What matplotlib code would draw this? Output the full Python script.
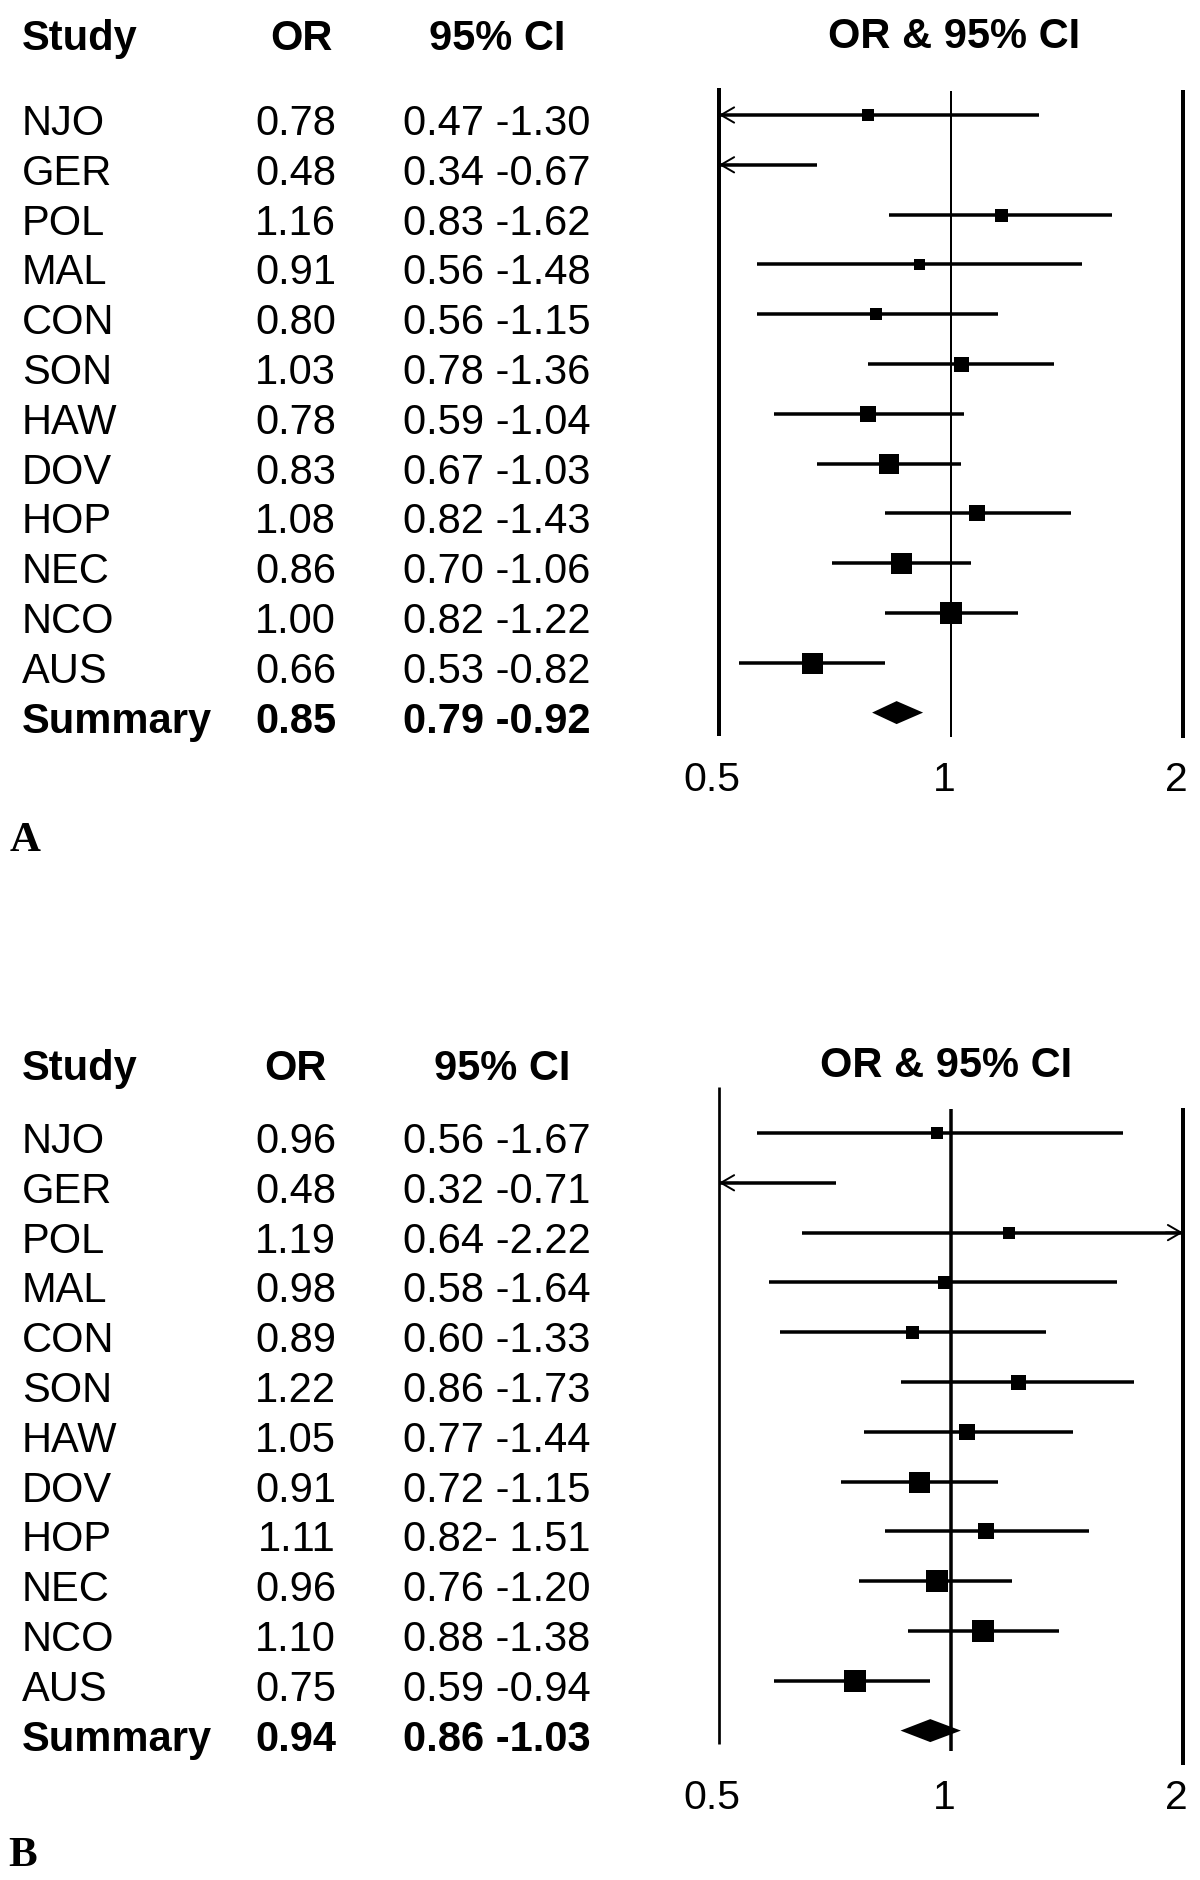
import matplotlib
matplotlib.use("Agg")
import matplotlib.pyplot as plt
import matplotlib.transforms as mtransforms

# ---- data ----
studies = ["NJO", "GER", "POL", "MAL", "CON", "SON", "HAW", "DOV", "HOP", "NEC", "NCO", "AUS"]

# panel A
or_a = [0.78, 0.48, 1.16, 0.91, 0.80, 1.03, 0.78, 0.83, 1.08, 0.86, 1.00, 0.66]
lo_a = [0.47, 0.34, 0.83, 0.56, 0.56, 0.78, 0.59, 0.67, 0.82, 0.70, 0.82, 0.53]
hi_a = [1.30, 0.67, 1.62, 1.48, 1.15, 1.36, 1.04, 1.03, 1.43, 1.06, 1.22, 0.82]
ci_a = ["0.47 -1.30", "0.34 -0.67", "0.83 -1.62", "0.56 -1.48", "0.56 -1.15", "0.78 -1.36",
        "0.59 -1.04", "0.67 -1.03", "0.82 -1.43", "0.70 -1.06", "0.82 -1.22", "0.53 -0.82"]
box_a = [12, 0, 13, 11, 12, 15, 16, 20, 16, 21, 22, 21]  # box side in px (study weight)
sum_a = (0.85, 0.79, 0.92)
sum_ci_a = "0.79 -0.92"

# panel B
or_b = [0.96, 0.48, 1.19, 0.98, 0.89, 1.22, 1.05, 0.91, 1.11, 0.96, 1.10, 0.75]
lo_b = [0.56, 0.32, 0.64, 0.58, 0.60, 0.86, 0.77, 0.72, 0.82, 0.76, 0.88, 0.59]
hi_b = [1.67, 0.71, 2.22, 1.64, 1.33, 1.73, 1.44, 1.15, 1.51, 1.20, 1.38, 0.94]
ci_b = ["0.56 -1.67", "0.32 -0.71", "0.64 -2.22", "0.58 -1.64", "0.60 -1.33", "0.86 -1.73",
        "0.77 -1.44", "0.72 -1.15", "0.82- 1.51", "0.76 -1.20", "0.88 -1.38", "0.59 -0.94"]
box_b = [12, 0, 12, 13, 13, 15, 16, 21, 16, 22, 22, 22]
sum_b = (0.94, 0.86, 1.03)
sum_ci_b = "0.86 -1.03"

ticks = [0.5, 1, 2]
tick_labels = ["0.5", "1", "2"]

W, H = 1200, 1881
ROW = 49.8  # px per row
PT = 0.72   # points per px at dpi 100

fig = plt.figure(figsize=(W / 100, H / 100), dpi=100)
sans = "Liberation Sans"
serif = "Liberation Serif"


def draw_panel(row0, ors, los, his, boxes, ci_txt, summ, summ_ci, letter, cfg):
    top = row0 - 2 * ROW
    bottom = row0 + 15 * ROW
    ax = fig.add_axes([719 / W, 1 - bottom / H, (1183 - 719) / W, (bottom - top) / H])
    ax.set_xscale("log")
    ax.set_xlim(0.5, 2)
    ax.set_ylim(15, -2)
    ax.axis("off")

    # frame lines at 0.5, 1 and 2
    for x, (y0, y1), lw in zip(ticks, cfg["vlines"], cfg["vlw"]):
        ax.vlines(x, y0, y1, color="black", lw=lw * PT, clip_on=False)

    head = dict(arrowstyle="->,head_length=0.95,head_width=0.55", lw=1.4, color="black",
                shrinkA=0, shrinkB=0, mutation_scale=10)
    n = len(ors)
    for i in range(n):
        x0 = max(los[i], 0.5)
        x1 = min(his[i], 2)
        ax.plot([x0, x1], [i, i], color="black", lw=3.5 * PT, solid_capstyle="butt", clip_on=False)
        if los[i] < 0.5:
            ax.annotate("", xy=(0.5, i), xytext=(0.53, i), arrowprops=head, annotation_clip=False)
        if his[i] > 2:
            ax.annotate("", xy=(2, i), xytext=(1.9, i), arrowprops=head, annotation_clip=False)
        if 0.5 < ors[i] < 2 and boxes[i] > 0:
            ax.scatter([ors[i]], [i], marker="s", s=(boxes[i] * PT) ** 2,
                       color="black", linewidths=0, zorder=3, clip_on=False)

    # summary diamond
    est, lo, hi = summ
    h = 11.5 / ROW
    ax.fill([lo, est, hi, est], [n, n - h, n, n + h], color="black", lw=0, zorder=3)

    # table text
    tr = mtransforms.blended_transform_factory(fig.transFigure, ax.transData)
    off = 0.38
    fs = 30
    for i, name in enumerate(studies):
        ax.text(22 / W, i + off, name, transform=tr, fontsize=fs, family=sans, va="baseline")
        ax.text(336 / W, i + off, f"{ors[i]:.2f}", transform=tr, fontsize=fs, family=sans,
                va="baseline", ha="right")
        ax.text(403 / W, i + off, ci_txt[i], transform=tr, fontsize=fs, family=sans, va="baseline")
    ax.text(22 / W, n + off, "Summary", transform=tr, fontsize=fs, family=sans,
            weight="bold", va="baseline")
    ax.text(336 / W, n + off, f"{est:.2f}", transform=tr, fontsize=fs, family=sans,
            weight="bold", va="baseline", ha="right")
    ax.text(403 / W, n + off, summ_ci, transform=tr, fontsize=fs, family=sans,
            weight="bold", va="baseline")

    # headers
    hy = cfg["head_y"]
    ax.text(22 / W, hy, "Study", transform=tr, fontsize=fs, family=sans, weight="bold", va="baseline")
    ax.text(cfg["or_x"] / W, hy, "OR", transform=tr, fontsize=fs, family=sans, weight="bold",
            va="baseline", ha="right")
    ax.text(cfg["ci_x"] / W, hy, "95% CI", transform=tr, fontsize=fs, family=sans, weight="bold",
            va="baseline", ha="center")
    ax.text(cfg["plot_x"] / W, cfg["plot_head_y"], "OR & 95% CI", transform=tr, fontsize=30,
            family=sans, weight="bold", va="baseline", ha="center")

    # axis labels
    shift = mtransforms.ScaledTranslation(-7 / 100, 0, fig.dpi_scale_trans)
    for x, lab in zip(ticks, tick_labels):
        ax.text(x, 13.55, lab, transform=ax.transData + shift, fontsize=29.5, family=sans,
                ha="center", va="baseline", clip_on=False)

    # panel letter
    ax.text(cfg["letter_x"] / W, cfg["letter_y"], letter, transform=tr, fontsize=31,
            family=serif, weight="bold", va="baseline")


cfg_a = dict(vlines=[(-0.54, 12.47), (-0.48, 12.49), (-0.50, 12.51)], vlw=[4, 2, 4],
             head_y=-1.33, plot_head_y=-1.36, or_x=333, ci_x=497, plot_x=954,
             letter_x=10, letter_y=14.75)
cfg_b = dict(vlines=[(-0.92, 12.27), (-0.48, 12.41), (-0.50, 12.69)], vlw=[2.7, 3.5, 4],
             head_y=-1.08, plot_head_y=-1.15, or_x=327, ci_x=502, plot_x=946,
             letter_x=8, letter_y=14.7)

draw_panel(116, or_a, lo_a, hi_a, box_a, ci_a, sum_a, sum_ci_a, "A", cfg_a)
draw_panel(1134, or_b, lo_b, hi_b, box_b, ci_b, sum_b, sum_ci_b, "B", cfg_b)

fig.savefig("out.png", dpi=100, facecolor="white")
